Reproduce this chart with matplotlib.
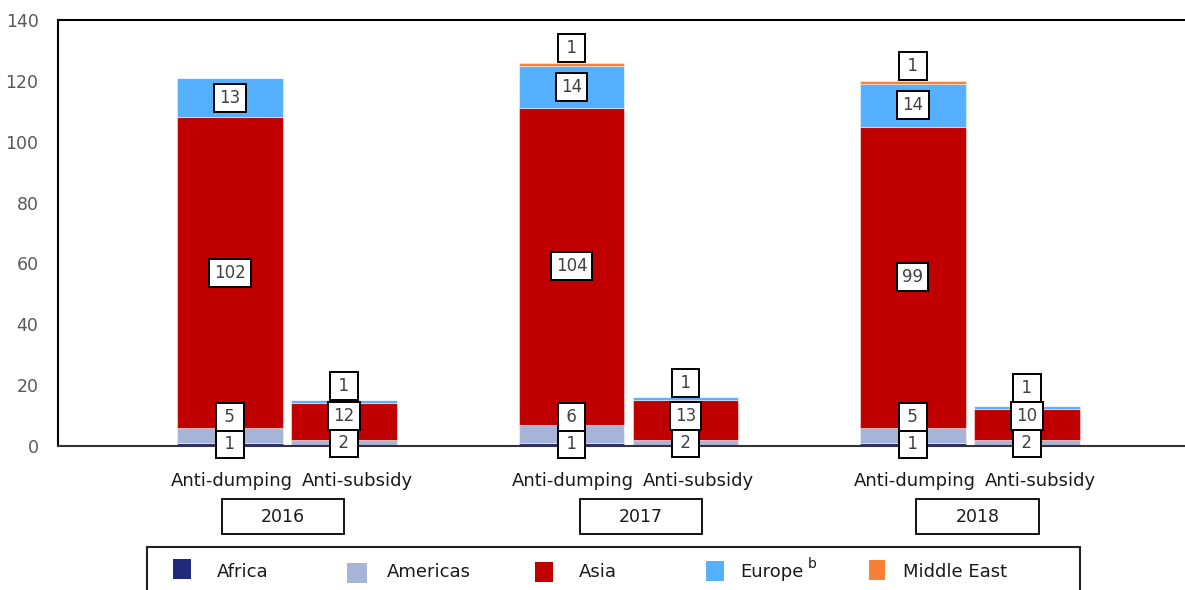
import numpy as np
import matplotlib.pyplot as plt
from matplotlib.patches import Rectangle

plt.rcParams['font.family'] = ['DejaVu Sans']

# trade remedy initiations by region of the affected exporter
years = ['2016', '2017', '2018']
kinds = ['Anti-dumping', 'Anti-subsidy']
regions = ['Africa', 'Americas', 'Asia', 'Europe', 'Middle East']

africa_ad = [1, 1, 1]
americas_ad = [5, 6, 5]
asia_ad = [102, 104, 99]
europe_ad = [13, 14, 14]
mideast_ad = [0, 1, 1]

africa_as = [0, 0, 0]
americas_as = [2, 2, 2]
asia_as = [12, 13, 10]
europe_as = [1, 1, 1]
mideast_as = [0, 0, 0]

colors = ['#1F2A7C', '#A8B3D8', '#C00000', '#55B0FF', '#F77F36']

W, H = 1185, 590
fig = plt.figure(figsize=(W / 100, H / 100), dpi=100)
ax = fig.add_axes([58 / W, 1 - 446 / H, 1 - 58 / W, 426 / H])

x = np.arange(len(years))
off = 0.167
bw = 0.31

stacks = [(x - off, [africa_ad, americas_ad, asia_ad, europe_ad, mideast_ad]),
          (x + off, [africa_as, americas_as, asia_as, europe_as, mideast_as])]

gap = 9.0
for xs, series in stacks:
    series = [np.array(s, dtype=float) for s in series]
    bottom = np.zeros(len(years))
    for vals, c in zip(series, colors):
        ax.bar(xs, vals, bw, bottom=bottom, color=c,
               edgecolor=(1, 1, 1, 0.45), linewidth=0.8)
        bottom = bottom + vals
    # value boxes, pushed upward when they would overlap
    for i in range(len(years)):
        total = sum(s[i] for s in series)
        nz = [k for k in range(len(series)) if series[k][i] > 0]
        base = 0.0
        prev = -1e9
        for k in range(len(series)):
            v = series[k][i]
            if v == 0:
                continue
            if k == nz[-1] and v < 3 and len(nz) > 1:
                y = total + 4.8
            else:
                y = base + v / 2
            y = max(y, prev + gap)
            prev = y
            txt = str(int(v))
            if len(txt) == 1:
                txt = '\u2009' + txt + '\u2009'
            ax.text(xs[i], y, txt, ha='center', va='center',
                    fontsize=12, color='#404040', clip_on=False, zorder=5,
                    bbox=dict(boxstyle='square,pad=0.3', fc='white',
                              ec='black', lw=1.4))
            base += v

ax.set_xlim(-0.6706, 2.6296)
ax.set_ylim(0, 140)
ax.set_yticks(range(0, 141, 20))
ax.set_xticks([])
ax.tick_params(axis='y', length=0, pad=14, labelsize=12.5, labelcolor='#595959')
ax.spines['right'].set_visible(False)
for s in ['left', 'top']:
    ax.spines[s].set_linewidth(1.5)
    ax.spines[s].set_color('black')
ax.spines['bottom'].set_linewidth(1.5)
ax.spines['bottom'].set_color('#333333')

# category names and year boxes under the bars
tr = ax.get_xaxis_transform()
year_dx = [-0.012, 0.037, 0.022]
for i, yr in enumerate(years):
    ax.text(x[i] - off + 0.005, -0.083, kinds[0], transform=tr, ha='center',
            va='center', fontsize=13, color='#1a1a1a')
    ax.text(x[i] + off + 0.038, -0.083, kinds[1], transform=tr, ha='center',
            va='center', fontsize=13, color='#1a1a1a')
    xc = x[i] + year_dx[i]
    ax.add_patch(Rectangle((xc - 0.179, -0.2065), 0.358, 0.082, transform=tr,
                           clip_on=False, fill=False, ec='black', lw=1.3))
    ax.text(xc, -0.1655, yr, transform=tr, ha='center', va='center',
            fontsize=12.5, color='#1a1a1a')

# legend panel along the bottom edge
fig.add_artist(Rectangle((147 / W, -0.02), (1080 - 147) / W, 0.02 + 1 - 547 / H,
                         transform=fig.transFigure, fill=False, ec='#222222', lw=1.5))
handle_x = [173, 347, 535, 706, 869]
handle_w = [18, 20, 18, 18, 16]
handle_top = [559, 563, 562, 561, 560]
text_x = [217, 387, 579, 740, 903]
for name, c, hx, hw, ht, tx in zip(regions, colors, handle_x, handle_w,
                                   handle_top, text_x):
    fig.add_artist(Rectangle((hx / W, 1 - (ht + 20) / H), hw / W, 20 / H,
                             transform=fig.transFigure, fc=c, ec='none'))
    fig.text(tx / W, 1 - 572 / H, name, ha='left', va='center',
             fontsize=13, color='#1a1a1a')
fig.text(808 / W, 1 - 564 / H, 'b', ha='left', va='center', fontsize=10,
         color='#1a1a1a')

fig.savefig('out.png', dpi=100)
